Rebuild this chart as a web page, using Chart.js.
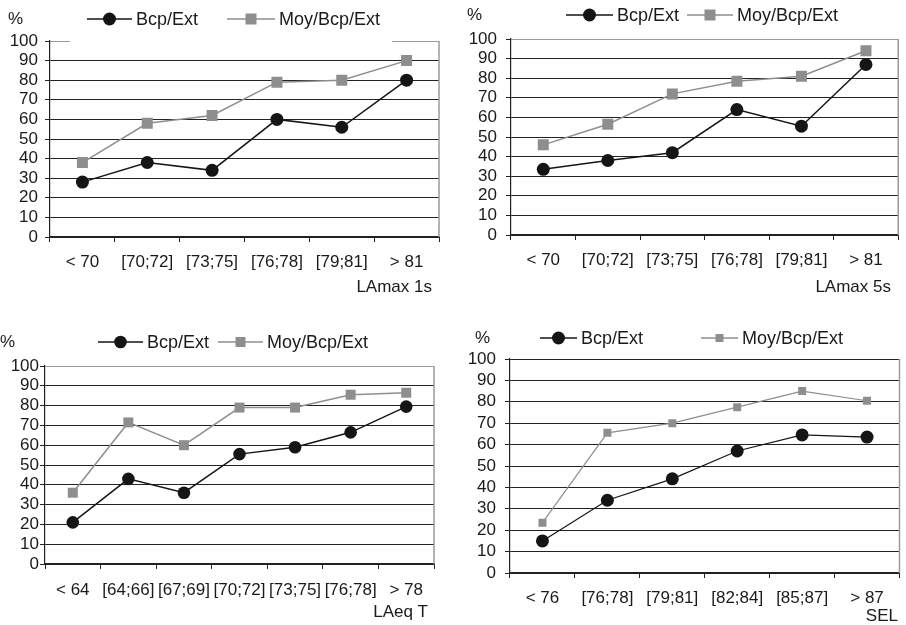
<!DOCTYPE html>
<html>
<head>
<meta charset="utf-8">
<script src="https://cdn.jsdelivr.net/npm/chart.js@4.4.1/dist/chart.umd.min.js"></script>
<style>
html,body{margin:0;padding:0;background:#fff;}
#wrap{position:relative;width:906px;height:625px;overflow:hidden;background:#fff;}
canvas{position:absolute;}
</style>
</head>
<body>
<div id="wrap">
<canvas id="c1" width="453" height="305" style="left:0px;top:0px"></canvas>
<canvas id="c2" width="453" height="305" style="left:453px;top:0px"></canvas>
<canvas id="c3" width="453" height="320" style="left:0px;top:305px"></canvas>
<canvas id="c4" width="453" height="320" style="left:453px;top:305px"></canvas>
</div>
<script>
// ---- Data ----
const seriesNames = ['Bcp/Ext', 'Moy/Bcp/Ext'];

const catsLAmax1s = ['< 70', '[70;72]', '[73;75]', '[76;78]', '[79;81]', '> 81'];
const bcpLAmax1s  = [28, 38, 34, 60, 56, 80];
const moyLAmax1s  = [38, 58, 62, 79, 80, 90];

const catsLAmax5s = ['< 70', '[70;72]', '[73;75]', '[76;78]', '[79;81]', '> 81'];
const bcpLAmax5s  = [33.5, 38, 42, 64, 55.5, 87];
const moyLAmax5s  = [46, 56.5, 72, 78.5, 81, 94];

const catsLAeqT = ['< 64', '[64;66]', '[67;69]', '[70;72]', '[73;75]', '[76;78]', '> 78'];
const bcpLAeqT  = [21, 43, 36, 55.5, 59, 66.5, 79.5];
const moyLAeqT  = [36, 71.5, 60, 79, 79, 85.5, 86.5];

const catsSEL = ['< 76', '[76;78]', '[79;81]', '[82;84]', '[85;87]', '> 87'];
const bcpSEL  = [15, 34, 44, 57, 64.5, 63.5];
const moySEL  = [23.5, 65.5, 70, 77.5, 85, 80.5];

const yMin = 0, yMax = 100, yStep = 10;
const axisTitles = ['LAmax 1s', 'LAmax 5s', 'LAeq T', 'SEL'];
const unitLabel = '%';

// ---- Styling ----
const FONT = "Arial, 'Liberation Sans', sans-serif";
const TXT = '#1a1a1a';
const DARK = '#151515';
const GRAY = '#8e8e8e';

function makeChart(id, cats, bcp, moy, title, L) {
  const decor = {
    id: 'decor' + id,
    beforeDatasetsDraw(chart) {
      const ctx = chart.ctx, a = chart.chartArea;
      ctx.save();
      ctx.strokeStyle = L.rightColor;
      ctx.lineWidth = 1.5;
      ctx.beginPath();
      ctx.moveTo(a.right, a.top);
      ctx.lineTo(a.right, a.bottom);
      ctx.stroke();
      if (L.gap) {
        ctx.strokeStyle = '#fff';
        ctx.lineWidth = 3;
        ctx.beginPath();
        ctx.moveTo(L.gap[0], a.top);
        ctx.lineTo(L.gap[1], a.top);
        ctx.stroke();
      }
      ctx.restore();
    },
    afterDraw(chart) {
      const ctx = chart.ctx;
      ctx.save();
      ctx.fillStyle = TXT;
      ctx.textBaseline = 'middle';
      ctx.font = '17px ' + FONT;
      ctx.textAlign = 'left';
      ctx.fillText(unitLabel, L.pctX, L.legY);
      // legend: Bcp
      ctx.strokeStyle = DARK;
      ctx.lineWidth = 1.5;
      ctx.beginPath();
      ctx.moveTo(L.l1[0], L.legY); ctx.lineTo(L.l1[1], L.legY);
      ctx.stroke();
      ctx.fillStyle = DARK;
      ctx.beginPath();
      ctx.arc((L.l1[0] + L.l1[1]) / 2, L.legY, L.cr, 0, Math.PI * 2);
      ctx.fill();
      // legend: Moy
      ctx.strokeStyle = GRAY;
      ctx.lineWidth = 1.5;
      ctx.beginPath();
      ctx.moveTo(L.l2[0], L.legY); ctx.lineTo(L.l2[1], L.legY);
      ctx.stroke();
      ctx.fillStyle = GRAY;
      const s = L.sq;
      const mx = (L.l2[0] + L.l2[1]) / 2;
      ctx.fillRect(mx - s / 2, L.legY - s / 2, s, s);
      // legend texts
      ctx.fillStyle = TXT;
      ctx.font = '18px ' + FONT;
      ctx.fillText(seriesNames[0], L.l1[1] + 4, L.legY + 1);
      ctx.fillText(seriesNames[1], L.l2[1] + 4, L.legY + 1);
      // axis title
      ctx.textAlign = 'right';
      ctx.font = '17px ' + FONT;
      ctx.fillText(title, L.titleX, L.titleY);
      ctx.restore();
    }
  };

  return new Chart(document.getElementById(id), {
    type: 'line',
    data: {
      labels: cats,
      datasets: [
        {
          label: seriesNames[0], data: bcp,
          borderColor: DARK, backgroundColor: DARK, borderWidth: L.lw,
          pointStyle: 'circle', pointRadius: L.cr, pointHoverRadius: L.cr,
          pointBorderWidth: 0, pointBackgroundColor: DARK, tension: 0
        },
        {
          label: seriesNames[1], data: moy,
          borderColor: GRAY, backgroundColor: GRAY, borderWidth: L.lw,
          pointStyle: 'rect', pointRadius: L.sq / Math.SQRT2, pointHoverRadius: L.sq / Math.SQRT2,
          pointBorderWidth: 0, pointBackgroundColor: GRAY, tension: 0
        }
      ]
    },
    options: {
      responsive: false,
      animation: false,
      events: [],
      layout: { padding: { left: 0, right: L.padR, top: L.top, bottom: 0 } },
      plugins: { legend: { display: false }, tooltip: { enabled: false }, title: { display: false } },
      scales: {
        x: {
          type: 'category',
          offset: true,
          grid: { offset: true, drawOnChartArea: false, drawTicks: true, tickLength: 5, color: '#222', lineWidth: 1 },
          border: { color: '#222', width: 1.2 },
          ticks: { font: { size: 17, family: FONT, lineHeight: 1 }, color: TXT, padding: L.xpad, autoSkip: false, maxRotation: 0, minRotation: 0 },
          afterFit(s) { s.height = L.xh; }
        },
        y: {
          min: yMin, max: yMax,
          ticks: { stepSize: yStep, autoSkip: false, font: { size: 17, family: FONT, lineHeight: 1 }, color: TXT, padding: L.ypad },
          grid: {
            color: (c) => (c.tick && c.tick.value === yMax) ? L.topColor : '#222',
            tickColor: '#222',
            tickLength: 5, drawTicks: true, lineWidth: 1
          },
          border: { color: '#222', width: 1.2 },
          afterFit(s) { s.width = L.left; }
        }
      }
    },
    plugins: [decor]
  });
}

makeChart('c1', catsLAmax1s, bcpLAmax1s, moyLAmax1s, axisTitles[0], {
  left: 50, padR: 14, top: 41, xh: 305 - 237, xpad: 12, ypad: 7,
  topColor: '#9a9a9a', rightColor: '#9a9a9a', gap: [70, 392],
  pctX: 8, legY: 19, l1: [87, 132], l2: [227, 275], cr: 6.5, sq: 11, lw: 1.5,
  titleX: 432, titleY: 287
});
makeChart('c2', catsLAmax5s, bcpLAmax5s, moyLAmax5s, axisTitles[1], {
  left: 58, padR: 7, top: 39, xh: 305 - 235, xpad: 12, ypad: 9,
  topColor: '#9a9a9a', rightColor: '#9a9a9a', gap: null,
  pctX: 14, legY: 15, l1: [113, 160], l2: [234, 280], cr: 6.5, sq: 11, lw: 1.5,
  titleX: 438, titleY: 287
});
makeChart('c3', catsLAeqT, bcpLAeqT, moyLAeqT, axisTitles[2], {
  left: 45, padR: 19, top: 61, xh: 320 - 259, xpad: 13, ypad: 1,
  topColor: '#9a9a9a', rightColor: '#9a9a9a', gap: null,
  pctX: 0, legY: 37, l1: [98, 143], l2: [218, 263], cr: 6.3, sq: 10, lw: 1.5,
  titleX: 428, titleY: 307
});
makeChart('c4', catsSEL, bcpSEL, moySEL, axisTitles[3], {
  left: 57, padR: 1, top: 54, xh: 320 - 268, xpad: 12, ypad: 9,
  topColor: '#222', rightColor: '#9a9a9a', gap: null,
  pctX: 22, legY: 33, l1: [87, 124], l2: [248, 285], cr: 6.5, sq: 8, lw: 1.2,
  titleX: 445, titleY: 311
});
</script>
</body>
</html>
